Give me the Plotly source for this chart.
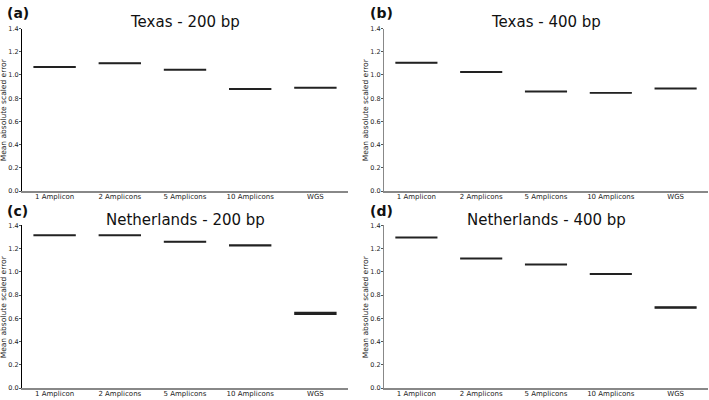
import plotly.graph_objects as go

categories = ["1 Amplicon", "2 Amplicons", "5 Amplicons", "10 Amplicons", "WGS"]
tick_vals = [0.0, 0.2, 0.4, 0.6, 0.8, 1.0, 1.2, 1.4]
tick_text = ["0.0", "0.2", "0.4", "0.6", "0.8", "1.0", "1.2", "1.4"]

panel_titles = ["Texas - 200 bp", "Texas - 400 bp", "Netherlands - 200 bp", "Netherlands - 400 bp"]
panel_letters = ["(a)", "(b)", "(c)", "(d)"]

# medians, lower quartiles, upper quartiles per panel
texas200_med = [1.068, 1.102, 1.046, 0.880, 0.891]
texas200_q1 = [1.065, 1.099, 1.043, 0.877, 0.888]
texas200_q3 = [1.071, 1.105, 1.049, 0.883, 0.894]

texas400_med = [1.105, 1.026, 0.857, 0.846, 0.883]
texas400_q1 = [1.102, 1.023, 0.854, 0.843, 0.880]
texas400_q3 = [1.108, 1.029, 0.860, 0.849, 0.886]

neth200_med = [1.315, 1.315, 1.259, 1.228, 0.645]
neth200_q1 = [1.312, 1.312, 1.256, 1.224, 0.635]
neth200_q3 = [1.318, 1.318, 1.262, 1.232, 0.652]

neth400_med = [1.296, 1.115, 1.065, 0.983, 0.696]
neth400_q1 = [1.293, 1.112, 1.062, 0.980, 0.688]
neth400_q3 = [1.299, 1.118, 1.068, 0.986, 0.700]

panels = [
    (texas200_med, texas200_q1, texas200_q3),
    (texas400_med, texas400_q1, texas400_q3),
    (neth200_med, neth200_q1, neth200_q3),
    (neth400_med, neth400_q1, neth400_q3),
]

W, H = 709, 400
# pixel geometry of each plotting area: (left, right, top, bottom)
areas = [
    (22, 348, 25, 191),
    (384, 708, 25, 191),
    (22, 348, 226, 392),
    (384, 708, 226, 392),
]

fig = go.Figure()
layout = dict(
    width=W, height=H,
    margin=dict(l=0, r=0, t=0, b=0),
    paper_bgcolor="white", plot_bgcolor="white",
    showlegend=False,
    font=dict(family="DejaVu Sans", color="#222"),
)
annotations = []

for i, ((med, q1, q3), (l, r, t, b)) in enumerate(zip(panels, areas)):
    xa = "x" if i == 0 else f"x{i+1}"
    ya = "y" if i == 0 else f"y{i+1}"
    fig.add_trace(go.Box(
        x=categories, median=med, q1=q1, q3=q3,
        lowerfence=q1, upperfence=q3,
        width=0.63,
        fillcolor="#777777",
        line=dict(color="#222222", width=1.3),
        xaxis=xa, yaxis=ya, hoverinfo="skip",
    ))
    ycol = "#000000" if i in (0, 2) else "#888888"
    layout["xaxis" if i == 0 else f"xaxis{i+1}"] = dict(
        domain=[l / W, r / W], anchor=ya,
        type="category", categoryorder="array", categoryarray=categories,
        range=[-0.5, 4.5],
        showline=True, linecolor="#888888", linewidth=1.5,
        showgrid=False, zeroline=False, ticks="",
        ticklabelstandoff=-2,
        tickfont=dict(size=7, color="#222"),
    )
    layout["yaxis" if i == 0 else f"yaxis{i+1}"] = dict(
        domain=[1 - b / H, 1 - t / H], anchor=xa,
        range=[0, 1.4], tickvals=tick_vals, ticktext=tick_text,
        showline=True, linecolor=ycol, linewidth=1,
        showgrid=False, zeroline=False,
        ticks="outside", ticklen=2, tickwidth=0.6, tickcolor="#555",
        ticklabelstandoff=-1,
        tickfont=dict(size=6.5, color="#222"),
    )
    # panel title
    cx = (l + r) / 2
    ty = 18 if i < 2 else 220
    annotations.append(dict(
        text=panel_titles[i], x=cx / W, y=1 - ty / H,
        xref="paper", yref="paper", xanchor="center", yanchor="middle",
        showarrow=False, font=dict(size=15, color="#111"),
    ))
    # panel letter
    lx = 5 if i in (0, 2) else 368
    ly = 9 if i < 2 else 211
    annotations.append(dict(
        text="<b>" + panel_letters[i] + "</b>", x=lx / W, y=1 - ly / H,
        xref="paper", yref="paper", xanchor="left", yanchor="middle",
        showarrow=False, font=dict(size=14, color="#111"),
    ))
    # y axis title
    yx = 3.5 if i in (0, 2) else 365.5
    annotations.append(dict(
        text="Mean absolute scaled error", x=yx / W, y=1 - ((t + b) / 2) / H,
        xref="paper", yref="paper", xanchor="center", yanchor="middle",
        textangle=-90, showarrow=False, font=dict(size=7.5, color="#222"),
    ))

layout["annotations"] = annotations
fig.update_layout(**layout)
fig.write_html("out.html")
